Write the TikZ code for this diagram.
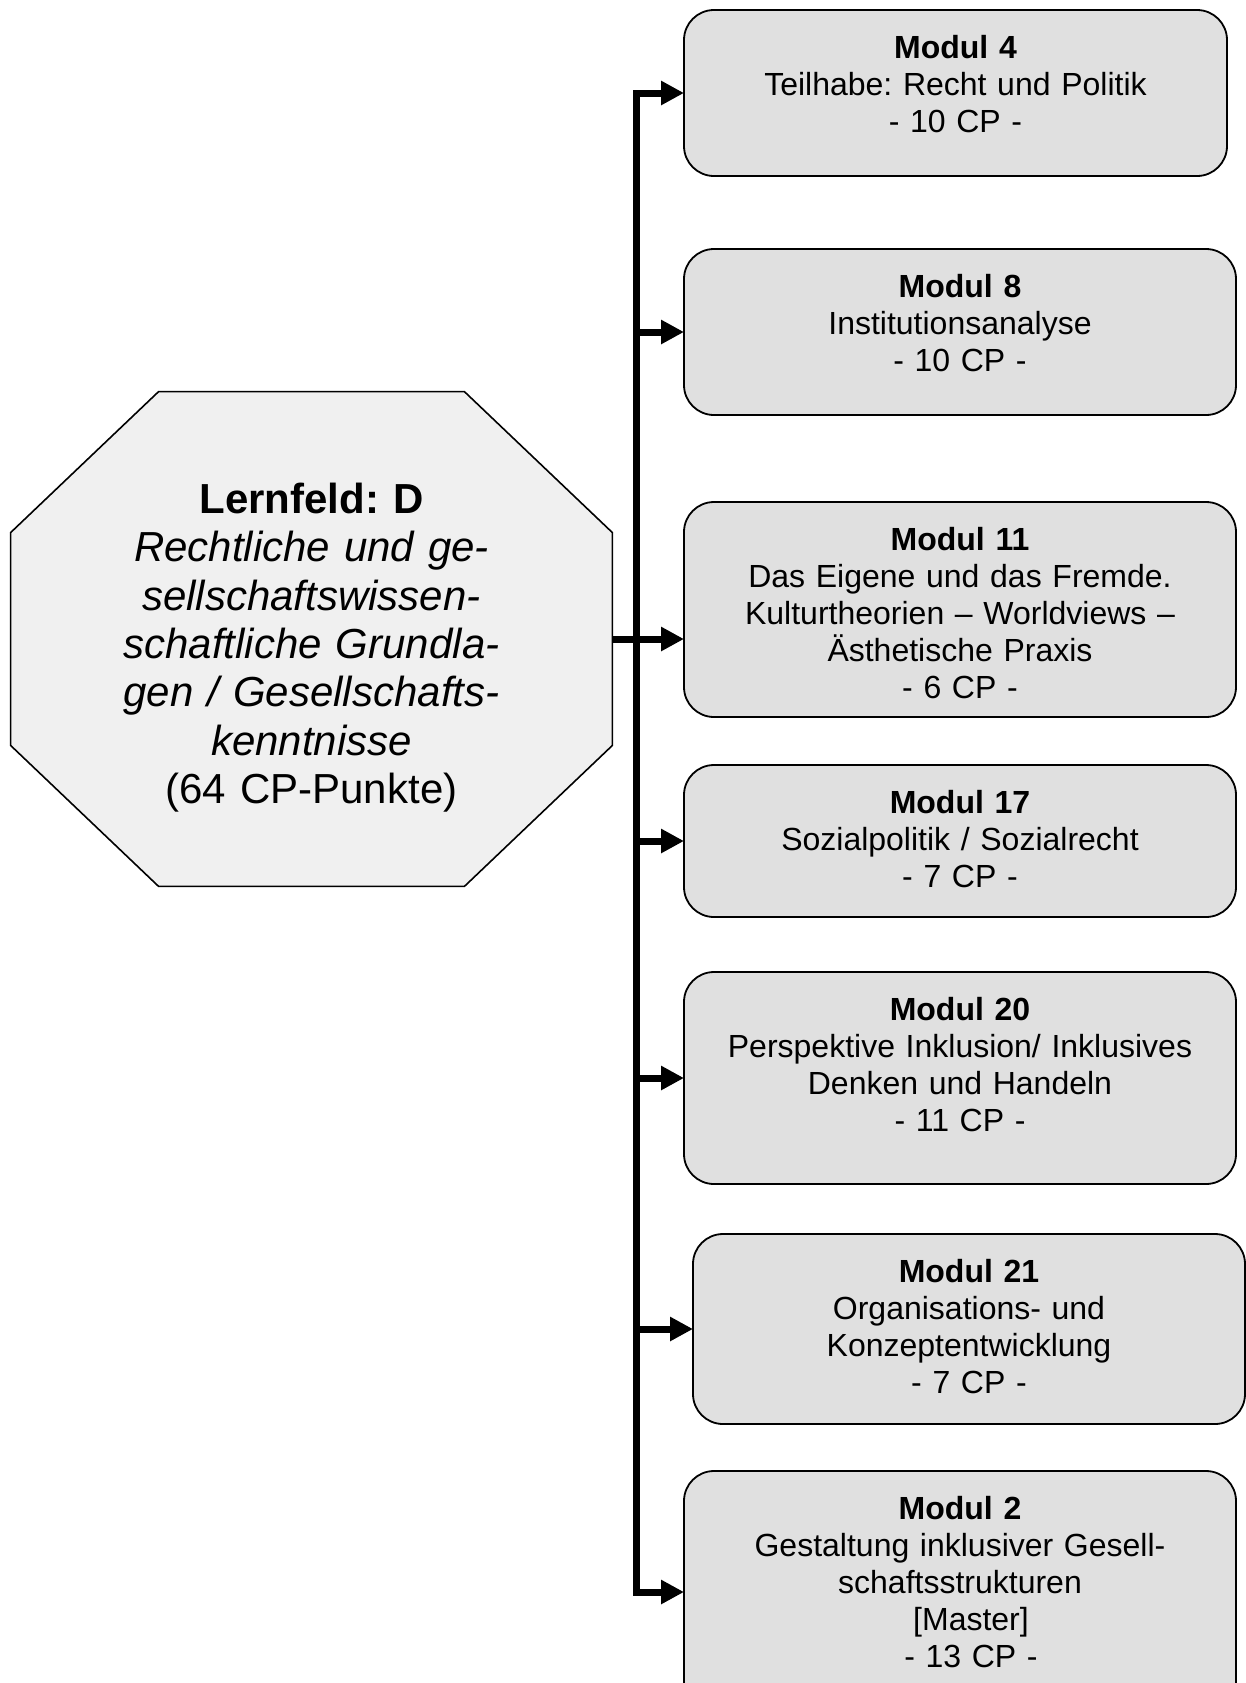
\documentclass[tikz,border=0pt]{standalone}
\usepackage{fontspec}
\setmainfont{Liberation Sans}
\usepackage{xcolor}
\usepackage{tikz}
\usetikzlibrary{positioning,arrows.meta,backgrounds}
\definecolor{boxgray}{RGB}{224,224,224}
\definecolor{octgray}{RGB}{240,240,240}
\frenchspacing
\tikzset{
  arrow/.style={-{Triangle[length=11.5pt, width=11.5pt]}, line width=3.5pt},
  octline/.style={draw, line width=0.8pt, fill=octgray}
}

\begin{document}
\begin{tikzpicture}[
            x=0.5pt, y=0.5pt,
            box/.style={draw, line width=0.9pt, rounded corners=15pt, fill=boxgray, align=center,
              inner xsep=4pt, inner ysep=12pt, outer sep=0pt, text width=268pt, text height=12pt,
              font=\fontsize{16pt}{18.5pt}\selectfont},
            lernfeld/.style={align=center, text width=290pt, minimum width=300.5pt, minimum height=247pt,
              inner sep=0pt, text depth=141pt, font=\fontsize{21pt}{24.2pt}\selectfont}
            ]
            \path[use as bounding box] (0,0) rectangle (1246,-1683);
            \clip (0,0) rectangle (1246,-1683);

            \node (lf) [lernfeld] at (311.5,-639) {\textbf{Lernfeld: D}\\ \textit{Rechtliche und ge-}\\ \textit{sellschaftswissen-}\\ \textit{schaftliche Grundla-}\\ \textit{gen / Gesellschafts-}\\ \textit{kenntnisse}\\ (64 CP-Punkte)};
            \begin{scope}[on background layer]
              \path[octline] ([xshift=74pt]lf.north west) -- ([xshift=-74pt]lf.north east) -- ([yshift=-70.5pt]lf.north east) -- ([yshift=70.5pt]lf.south east)
                -- ([xshift=-74pt]lf.south east) -- ([xshift=74pt]lf.south west) -- ([yshift=70.5pt]lf.south west) -- ([yshift=-70.5pt]lf.north west) -- cycle;
            \end{scope}

            \node (m4) [box, text width=263.5pt, text depth=47pt, anchor=north west] at (684,-10) {\textbf{Modul 4}\\ Teilhabe: Recht und Politik\\ - 10 CP -};
            \node (m8) [box, text depth=47pt, below=36.5pt of m4.south west, anchor=north west] {\textbf{Modul 8}\\ Institutionsanalyse\\ - 10 CP -};
            \node (m11) [box, text depth=71.5pt, below=43.5pt of m8.south west, anchor=north west] {\textbf{Modul 11}\\ Das Eigene und das Fremde.\\ Kulturtheorien – Worldviews –\\ Ästhetische Praxis\\ - 6 CP -};
            \node (m17) [box, text depth=40pt, below=24pt of m11.south west, anchor=north west] {\textbf{Modul 17}\\ Sozialpolitik / Sozialrecht\\ - 7 CP -};
            \node (m20) [box, text depth=70pt, below=27.5pt of m17.south west, anchor=north west] {\textbf{Modul 20}\\ Perspektive Inklusion/ Inklusives\\ Denken und Handeln\\ - 11 CP -};
            \node (m21) [box, text depth=59pt, below=25pt of m20.south west, anchor=north west, xshift=4.5pt] {\textbf{Modul 21}\\ Organisations- und\\ Konzeptentwicklung\\ - 7 CP -};
            \node (m2) [box, text depth=85pt, below=23.5pt of m21.south west, anchor=north west, xshift=-4.5pt] {\textbf{Modul 2}\\ Gestaltung inklusiver Gesell-\\ schaftsstrukturen\\ \hspace*{11pt}[Master]\\ \hspace*{11pt}- 13 CP -};

            % Pfeile
            \coordinate[right=12pt of lf.east] (bus);
            \draw[arrow] (lf.east) -- (lf.east -| m11.west);
            \draw[arrow] (bus) |- (m4.west);
            \draw[arrow] (bus) |- (m2.west);
            \foreach \m in {m8, m17, m20, m21}
              \draw[arrow] (bus |- \m.west) -- (\m.west);

      \end{tikzpicture}
\end{document}
